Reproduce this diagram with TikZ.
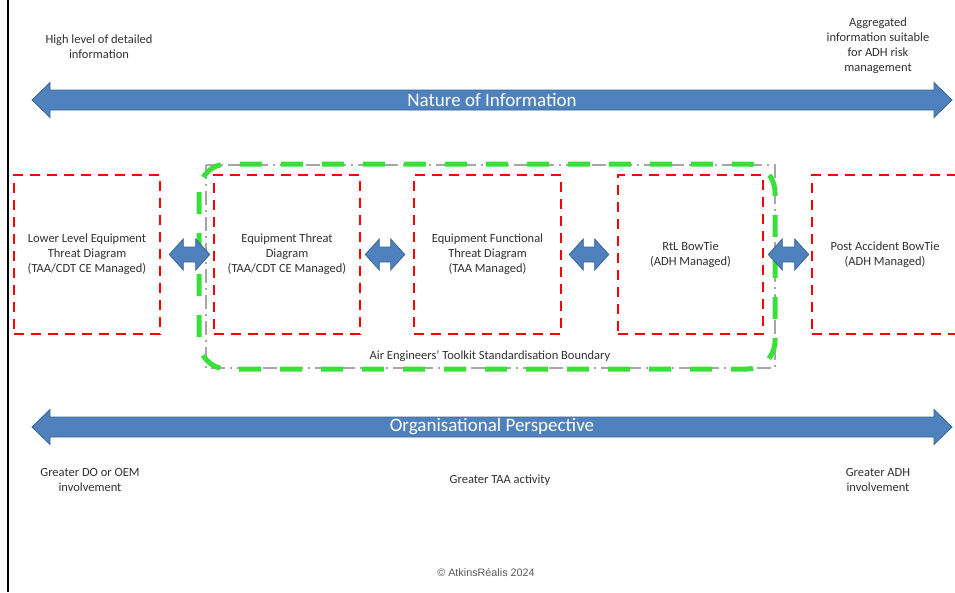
\documentclass[tikz,border=0pt]{standalone}
\usepackage{fontspec}
\setmainfont{Carlito}
\newfontfamily\arialfont{Liberation Sans}
\usetikzlibrary{calc}

\definecolor{arrowblue}{HTML}{4F81BD}
\definecolor{arrowedge}{HTML}{3A6596}
\definecolor{boxred}{HTML}{FF0000}
\definecolor{zonegreen}{HTML}{38E038}
\definecolor{zonegray}{HTML}{A6A6A6}
\definecolor{labeltext}{HTML}{303030}
\definecolor{creditgray}{HTML}{595959}

% Two-headed block arrow between two points:
% #1 left end, #2 right end, #3 half shaft, #4 half head, #5 head length
\newcommand\twinarrow[5]{%
  \path[arrowbody] let \p1=(#1), \p2=(#2) in
    (\x1,\y1) -- (\x1+#5,\y1+#4) -- (\x1+#5,\y1+#3) -- (\x2-#5,\y1+#3)
    -- (\x2-#5,\y1+#4) -- (\x2,\y1) -- (\x2-#5,\y1-#4) -- (\x2-#5,\y1-#3)
    -- (\x1+#5,\y1-#3) -- (\x1+#5,\y1-#4) -- cycle;}

\begin{document}
\begin{tikzpicture}[x=1pt,y=-1pt,
  arrowbody/.style={fill=arrowblue, draw=arrowedge, line width=0.8pt, line join=miter},
  threatbox/.style={draw=boxred, line width=2.6pt, dash pattern=on 10pt off 7pt,
    minimum width=146pt, minimum height=159pt, inner sep=0pt, align=center,
    text=labeltext, font=\fontsize{12.5}{15}\selectfont},
  note/.style={align=center, text=labeltext, font=\fontsize{12.5}{15}\selectfont, inner sep=0pt},
  axistitle/.style={text=white, font=\fontsize{19}{22}\selectfont, inner sep=0pt},
  toolkitzone/.style={draw=zonegray, line width=1.5pt, dash pattern=on 14pt off 5pt on 2pt off 5pt},
  standardzone/.style={draw=zonegreen, line width=5pt, dash pattern=on 22pt off 19pt, rounded corners=28pt}
]
\useasboundingbox (0,0) rectangle (955,592);

% page edge rule
\coordinate (edgetop) at (8,0);
\coordinate (edgebot) at (8,592);
\draw[line width=2.5pt] (edgetop) -- (edgebot);

% upper axis
\node[note] (infolow) at (99,47) {High level of detailed\\information};
\node[note] (infohigh) at (878,45.5) {Aggregated\\information suitable\\for ADH risk\\management};
\coordinate (natl) at (32,100);
\coordinate (natr) at (952,100);
\twinarrow{natl}{natr}{10pt}{17.5pt}{18pt}
\node[axistitle] (nature) at ($(natl)!0.5!(natr)$) {Nature of Information};

% boundaries
\coordinate (tkA) at (206,165);
\coordinate (tkB) at (775,368);
\draw[toolkitzone] (tkA) rectangle (tkB);
\coordinate (stA) at (199,164);
\coordinate (stB) at (775,369);
\draw[standardzone] (stA) rectangle (stB);
\node[note] (toolkit) at (490,356) {Air Engineers’ Toolkit Standardisation Boundary};

% diagram levels
\node[threatbox] (b1) at (87,254.5) {Lower Level Equipment\\Threat Diagram\\(TAA/CDT CE Managed)};
\node[threatbox] (b2) at (287,254.5) {Equipment Threat\\Diagram\\(TAA/CDT CE Managed)};
\node[threatbox, minimum width=147pt] (b3) at (487.5,254.5) {Equipment Functional\\Threat Diagram\\(TAA Managed)};
\node[threatbox, minimum width=145pt] (b4) at (690.5,254.5) {RtL BowTie\\(ADH Managed)};
\node[threatbox] (b5) at (885,254.5) {Post Accident BowTie\\(ADH Managed)};

% links between levels
\twinarrow{$(b1.east)+(8,0)$}{$(b2.west)+(-3,0)$}{7.5pt}{15.5pt}{14pt}
\twinarrow{$(b2.east)+(4,0)$}{$(b3.west)+(-8,0)$}{7.5pt}{15.5pt}{14pt}
\twinarrow{$(b3.east)+(7,0)$}{$(b4.west)+(-8,0)$}{7.5pt}{15.5pt}{14pt}
\twinarrow{$(b4.east)+(4,0)$}{$(b5.west)+(-2,0)$}{7.5pt}{15.5pt}{14pt}

% lower axis
\coordinate (orgl) at (32,427);
\coordinate (orgr) at (952,427);
\twinarrow{orgl}{orgr}{10pt}{17.5pt}{18pt}
\node[axistitle] (perspective) at ($(orgl)!0.5!(orgr)$) {Organisational Perspective};
\node[note] (oem) at (90,479.5) {Greater DO or OEM\\involvement};
\node[note] (taa) at (500,480) {Greater TAA activity};
\node[note] (adh) at (878,479.5) {Greater ADH\\involvement};

\node[text=creditgray, font=\arialfont\fontsize{10.8}{12}\selectfont, inner sep=0pt] (credit) at (486,573) {© AtkinsRéalis 2024};
\end{tikzpicture}
\end{document}
